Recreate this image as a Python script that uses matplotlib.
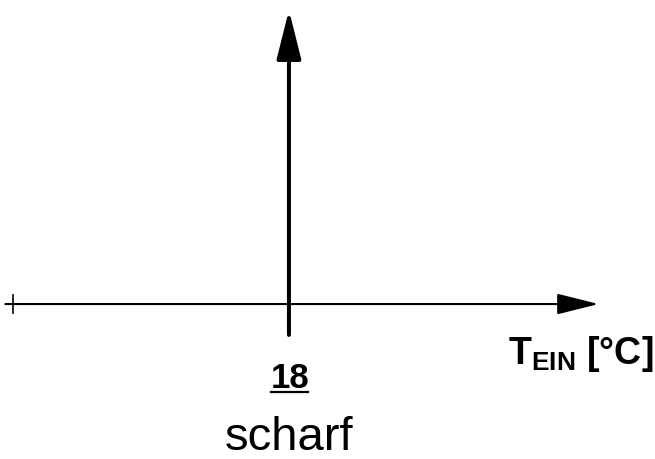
import matplotlib
matplotlib.use("Agg")
import matplotlib.pyplot as plt

plt.rcParams['font.family'] = ['Liberation Sans', 'DejaVu Sans']
plt.rcParams['mathtext.fontset'] = 'custom'
plt.rcParams['mathtext.rm'] = 'Liberation Sans'
plt.rcParams['mathtext.bf'] = 'Liberation Sans:bold'

# inlet temperature axis (°C) and the sharp switching point
t_axis = [0, 38]
t_overhang = -0.5
t_switch = 18
switch_label = "18"
mode_label = "scharf"
x_label = r"T$_\mathbf{EIN}$ [°C]"

# switching line: from below the axis up to full response
response = [-0.105, 1.0]

fig = plt.figure(figsize=(6.55, 4.59), dpi=100)
ax = fig.add_axes([0, 0, 1, 1])
ax.set_xlim(-0.85, 41.88)
ax.set_ylim(-0.527, 1.034)
ax.axis('off')

# horizontal temperature axis with arrow
ax.annotate('', xy=(t_axis[1] + 0.2, 0), xytext=(t_overhang, 0),
            arrowprops=dict(arrowstyle='-|>,head_length=26,head_width=6.5',
                            mutation_scale=1, lw=1.5, color='black',
                            shrinkA=0, shrinkB=0))
# small tick at the origin
ax.plot([t_axis[0], t_axis[0]], [-0.03, 0.03], color='black', lw=1.2)

# vertical switching line with arrow
ax.annotate('', xy=(t_switch, response[1]), xytext=(t_switch, response[0]),
            arrowprops=dict(arrowstyle='-|>,head_length=30,head_width=7.5',
                            mutation_scale=1, lw=2.9, color='black',
                            shrinkA=0, shrinkB=0))

ax.text(32.3, -0.205, x_label, fontsize=27, fontweight='bold',
        ha='left', va='baseline')

y_val = -0.286
lbl = ax.text(t_switch + 0.05, y_val, switch_label, fontsize=25,
              fontweight='bold', ha='center', va='baseline')
ax.text(t_switch, -0.498, mode_label, fontsize=34, ha='center', va='baseline')

# underline the switching value just below its baseline
fig.canvas.draw()
bb = lbl.get_window_extent().transformed(ax.transData.inverted())
y_ul = y_val - 0.014
ax.plot([bb.x0 + 0.05, bb.x1 - 0.05], [y_ul, y_ul], color='black', lw=1.6)

fig.savefig('out.png', dpi=100)
